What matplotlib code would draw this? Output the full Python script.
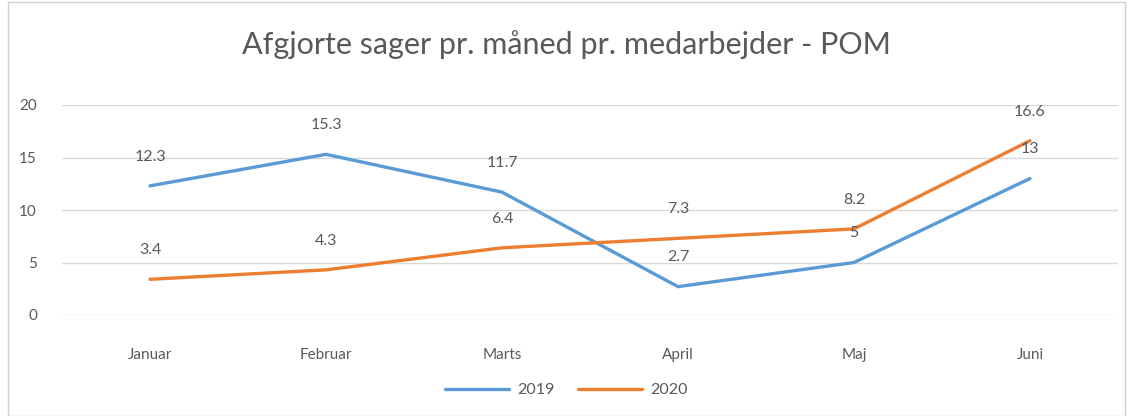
import matplotlib
matplotlib.use("Agg")
import matplotlib.pyplot as plt
from matplotlib.patches import Rectangle

months = ["Januar", "Februar", "Marts", "April", "Maj", "Juni"]
values_2019 = [12.3, 15.3, 11.7, 2.7, 5, 13]
values_2020 = [3.4, 4.3, 6.4, 7.3, 8.2, 16.6]
labels_2019 = ["12.3", "15.3", "11.7", "2.7", "5", "13"]
labels_2020 = ["3.4", "4.3", "6.4", "7.3", "8.2", "16.6"]
yticks = [0, 5, 10, 15, 20]

plt.rcParams['font.family'] = ['Lato', 'DejaVu Sans']
text_color = "#595959"

fig = plt.figure(figsize=(11.33, 4.16), dpi=100)
fig.patches.append(Rectangle((8/1133, 0), 1 - 16/1133, 1 - 2/416, transform=fig.transFigure,
                             fill=False, edgecolor="#D0D0D0", linewidth=1))
ax = fig.add_axes([62/1133, 101/416, (1118-62)/1133, 210/416])

x = list(range(len(months)))
ax.plot(x, values_2019, color="#5B9BD5", linewidth=2.4, label="2019", solid_capstyle="round")
ax.plot(x, values_2020, color="#ED7D31", linewidth=2.4, label="2020", solid_capstyle="round")

for xi, v, lab in zip(x, values_2019, labels_2019):
    ax.annotate(lab, (xi, v), xytext=(0, 21), textcoords="offset points",
                ha="center", va="center", fontsize=11.5, color=text_color)
for xi, v, lab in zip(x, values_2020, labels_2020):
    ax.annotate(lab, (xi, v), xytext=(0, 21), textcoords="offset points",
                ha="center", va="center", fontsize=11.5, color=text_color)

ax.set_xlim(-0.5, 5.5)
ax.set_ylim(0, 20)
ax.set_yticks(yticks)
ax.set_xticks(x)
ax.set_xticklabels(months)
ax.grid(axis="y", color="#D9D9D9", linewidth=1)
ax.set_axisbelow(True)
for s in ax.spines.values():
    s.set_visible(False)
ax.tick_params(axis="both", length=0, labelsize=11, labelcolor=text_color)
ax.tick_params(axis="x", pad=24)
ax.tick_params(axis="y", pad=18)

fig.suptitle("Afgjorte sager pr. måned pr. medarbejder - POM", y=1 - 45/416, va="center",
             fontsize=22, color=text_color)

leg = fig.legend(loc="center", bbox_to_anchor=(0.5, 1 - 390/416), ncol=2, frameon=False,
                 fontsize=11.5, labelcolor=text_color, handlelength=4, handletextpad=0.5,
                 columnspacing=1.5)

fig.savefig("out.png", dpi=100, facecolor="white")
